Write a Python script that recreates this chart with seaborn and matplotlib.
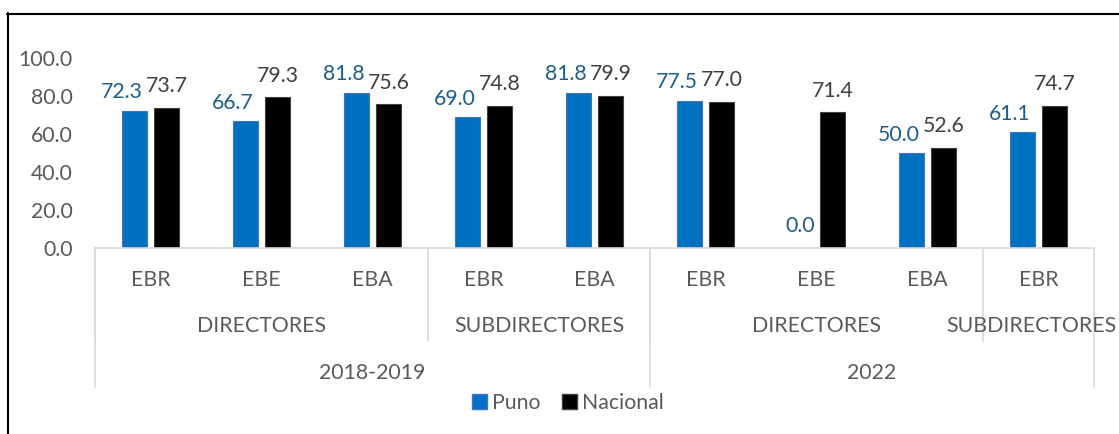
import matplotlib
matplotlib.use("Agg")
import matplotlib.pyplot as plt
from matplotlib.patches import Patch
from matplotlib.lines import Line2D
import pandas as pd
import seaborn as sns

# data
periodos = ['2018-2019'] * 5 + ['2022'] * 4
cargos = ['DIRECTORES'] * 3 + ['SUBDIRECTORES'] * 2 + ['DIRECTORES'] * 3 + ['SUBDIRECTORES']
niveles = ['EBR', 'EBE', 'EBA', 'EBR', 'EBA', 'EBR', 'EBE', 'EBA', 'EBR']
puno = [72.3, 66.7, 81.8, 69.0, 81.8, 77.5, 0.0, 50.0, 61.1]
nacional = [73.7, 79.3, 75.6, 74.8, 79.9, 77.0, 71.4, 52.6, 74.7]
series = ['Puno', 'Nacional']

claves = [f'{p}|{c}|{n}|{i}' for i, (p, c, n) in enumerate(zip(periodos, cargos, niveles))]
df = pd.DataFrame({
    'clave': claves * 2,
    'serie': ['Puno'] * len(puno) + ['Nacional'] * len(nacional),
    'valor': puno + nacional,
})

AZUL = '#0070C0'
NEGRO = '#000000'
GRIS_TXT = '#595959'
GRIS_LIN = '#D9D9D9'

sns.set_style('white')
plt.rcParams['font.family'] = ['Lato', 'DejaVu Sans']
FS = 15.3

W, H = 1119, 434
fig = plt.figure(figsize=(W / 100, H / 100), dpi=100)
# plot area: x 95..1094 px, y 58 (100) .. 248 (0) px
ax = fig.add_axes([95 / W, 1 - 248 / H, (1094 - 95) / W, (248 - 58) / H])

sns.barplot(data=df, x='clave', y='valor', hue='serie', order=claves,
            hue_order=series, palette=[AZUL, NEGRO], width=0.577, gap=0.19,
            legend=False, ax=ax, saturation=1)

for bar in ax.containers[0]:
    bar.set_edgecolor('#4472C4')
    bar.set_linewidth(0.8)
for bar in ax.containers[1]:
    bar.set_edgecolor('#404040')
    bar.set_linewidth(0.8)

# data labels
for cont, color in zip(ax.containers, ['#1F5E87', '#404040']):
    es_puno = color != '#404040'
    for bar in cont:
        h = bar.get_height()
        cx = bar.get_x() + bar.get_width() / 2
        if es_puno:
            dx, dy = (-9, 6) if h > 0 else (0, 8.5)
        else:
            dx, dy = 0, 8.5
        ax.annotate(f'{h:.1f}', xy=(cx, h), xytext=(dx, dy), textcoords='offset points',
                    ha='center', va='bottom', fontsize=FS, color=color)

ax.set_ylim(0, 100)
ax.set_xlim(-0.5, len(claves) - 0.5)
ax.set_yticks(range(0, 101, 20))
ax.set_yticklabels([f'{v:.1f}' for v in range(0, 101, 20)], fontsize=FS, color=GRIS_TXT)
ax.tick_params(axis='y', length=0, pad=16)
ax.set_xticks([])
ax.set_xlabel('')
ax.set_ylabel('')
for s in ['top', 'right', 'left']:
    ax.spines[s].set_visible(False)
ax.spines['bottom'].set_color(GRIS_LIN)
ax.spines['bottom'].set_linewidth(1.2)


def py(px):
    # pixel row -> axes fraction
    return (248 - px) / (248 - 58)


tr = ax.get_xaxis_transform()


def runs(labels):
    out = []
    start = 0
    for i in range(1, len(labels) + 1):
        if i == len(labels) or labels[i] != labels[start]:
            out.append((start, i - 1, labels[start]))
            start = i
    return out


# level 1: niveles
for i, n in enumerate(niveles):
    ax.text(i, py(280), n, transform=tr, ha='center', va='center',
            fontsize=FS, color=GRIS_TXT)

# level 2: cargos (grouped within periodo)
textos2 = []
grupos2 = runs([f'{p}|{c}' for p, c in zip(periodos, cargos)])
for a, b, lab in grupos2:
    t = ax.text((a + b) / 2, py(325.5), lab.split('|')[1], transform=tr, ha='center',
                va='center', fontsize=FS, color=GRIS_TXT)
    textos2.append(t)
    ax.plot([a - 0.5, a - 0.5], [0, py(341)], transform=tr, color=GRIS_LIN,
            lw=1.2, clip_on=False)

# level 3: periodos
grupos3 = runs(periodos)
for a, b, lab in grupos3:
    ax.text((a + b) / 2, py(373), lab, transform=tr, ha='center', va='center',
            fontsize=FS, color=GRIS_TXT)
    ax.plot([a - 0.5, a - 0.5], [0, py(387)], transform=tr, color=GRIS_LIN,
            lw=1.2, clip_on=False)
ax.plot([len(claves) - 0.5] * 2, [0, py(387)], transform=tr, color=GRIS_LIN,
        lw=1.2, clip_on=False)

# keep the last group label inside the picture
fig.canvas.draw()
rend = fig.canvas.get_renderer()
for t in textos2:
    bb = t.get_window_extent(rend)
    if bb.x1 > W - 2:
        t.set_ha('right')
        t.set_x(ax.transData.inverted().transform((W - 2, 0))[0])

# legend
handles = [Patch(facecolor=AZUL, edgecolor='#4472C4', label='Puno'),
           Patch(facecolor=NEGRO, edgecolor='#404040', label='Nacional')]
leg = fig.legend(handles=handles, loc='center', bbox_to_anchor=(568 / W, 1 - 403 / H),
                 ncol=2, frameon=False, fontsize=FS, handlelength=0.7,
                 handleheight=0.7, handletextpad=0.25, columnspacing=1.0)
for t in leg.get_texts():
    t.set_color(GRIS_TXT)

# chart frame (cut at right and bottom)
fig.add_artist(Line2D([7.5 / W, 7.5 / W], [0, 1 - 13 / H], color='black', lw=1.5,
                      transform=fig.transFigure))
fig.add_artist(Line2D([7 / W, 1], [1 - 13.5 / H, 1 - 13.5 / H], color='black', lw=1.5,
                      transform=fig.transFigure))

fig.savefig('out.png', dpi=100)
